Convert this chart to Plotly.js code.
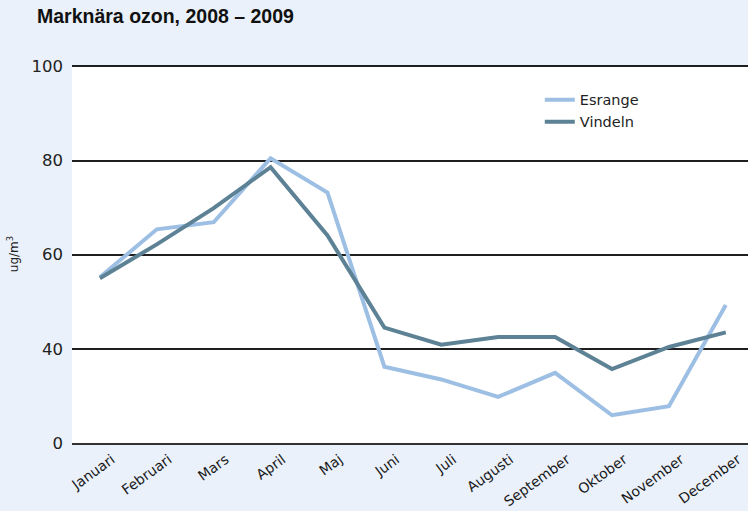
<!DOCTYPE html>
<html>
<head>
<meta charset="utf-8">
<script src="https://cdn.plot.ly/plotly-3.0.1.min.js"></script>
<style>html,body{margin:0;padding:0;background:#EAF1FA;}#chart{width:748px;height:511px;}</style>
</head>
<body>
<div id="chart"></div>
<script>
const months = ["Januari","Februari","Mars","April","Maj","Juni","Juli","Augusti","September","Oktober","November","December"];
const esrange = [55.2, 65.4, 66.9, 80.5, 73.2, 36.2, 33.5, 29.8, 34.9, 25.9, 27.8, 49.3];
const vindeln = [55.0, 62.2, 69.9, 78.6, 64.1, 44.5, 40.9, 42.5, 42.5, 35.7, 40.4, 43.5];
const yTickVals = [20, 40, 60, 80, 100];
const yTickText = ["0", "40", "60", "80", "100"];

const idx = months.map((m, i) => i);

const traces = [
  {x: idx, y: esrange, name: "Esrange", type: "scatter", mode: "lines",
   line: {color: "#9DBFE4", width: 4}},
  {x: idx, y: vindeln, name: "Vindeln", type: "scatter", mode: "lines",
   line: {color: "#5D8195", width: 4}}
];

const layout = {
  width: 748, height: 511,
  paper_bgcolor: "#EAF1FA",
  plot_bgcolor: "#FFFFFF",
  margin: {l: 72, r: 0, t: 65, b: 68},
  font: {family: "DejaVu Sans, sans-serif", color: "#222"},
  title: {text: "<b>Marknära ozon, 2008 – 2009</b>", x: 37/748, xanchor: "left",
          y: 1 - 9/511, yanchor: "top", font: {family: "Liberation Sans, Arial, sans-serif", size: 19.5, color: "#111"}},
  xaxis: {
    range: [-0.49, 11.39], tickvals: idx, ticktext: months, tickangle: -36,
    showgrid: false, zeroline: false, showline: true, linecolor: "#333", linewidth: 2,
    ticks: "", tickfont: {size: 14, color: "#1a1a1a"}, ticklabelshift: 12, ticklabelstandoff: 1
  },
  yaxis: {
    range: [20, 100.3], tickvals: yTickVals, ticktext: yTickText,
    showgrid: true, gridcolor: "#1f1f1f", gridwidth: 2, zeroline: false, showline: false,
    ticks: "", tickfont: {size: 16.5, color: "#222"}, ticklabelstandoff: 8,
    title: {text: "ug/m<sup>3</sup>", font: {size: 12, color: "#222"}, standoff: 10}
  },
  legend: {x: 0.692, y: 0.95, xanchor: "left", yanchor: "top", bgcolor: "rgba(0,0,0,0)",
           font: {size: 14.5, color: "#222"}, tracegroupgap: 0, itemwidth: 30},
  showlegend: true
};

Plotly.newPlot("chart", traces, layout, {displayModeBar: false, staticPlot: true});
</script>
</body>
</html>
